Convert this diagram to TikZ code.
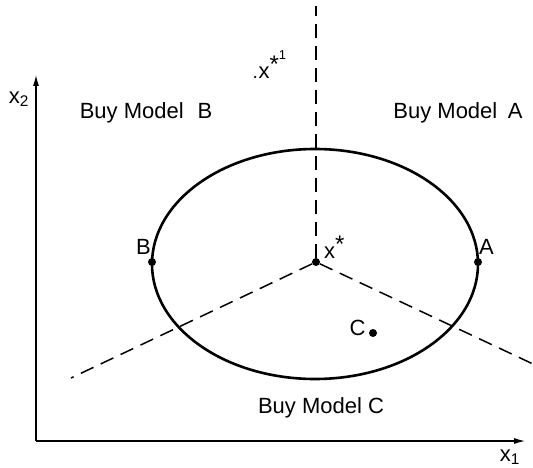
\documentclass[tikz,border=0pt]{standalone}
\usepackage{fontspec}
\setmainfont{Liberation Sans}
\usetikzlibrary{arrows.meta, positioning}

\newcommand{\bigstar}{\raisebox{0.55ex}{\fontsize{24}{24}\selectfont *}}

\begin{document}
\begin{tikzpicture}[
    x=1pt, y=-1pt,
    axis/.style={line width=1.8pt, -{Latex[length=12pt,width=6pt]}},
    border/.style={line width=1.5pt, dash pattern=on 14pt off 8pt},
    pref/.style={line width=2.6pt},
    dot/.style={circle, fill, inner sep=0pt, minimum size=8pt},
    lbl/.style={font=\fontsize{22}{26}\selectfont, inner sep=1pt}
]
    \useasboundingbox (0,0) rectangle (533,468);

    % axes
    \coordinate (orig) at (36,441);
    \coordinate (ytip) at (36,74);
    \coordinate (xtip) at (526,441);
    \draw[axis] (orig) -- (ytip);
    \draw[axis] (orig) -- (xtip);
    \node[lbl] (xtwo) at (19,99) {x\textsubscript{2}};
    \node[lbl] (xone) at (510,457) {x\textsubscript{1}};

    % ideal point and region borders
    \node[dot] (ideal) at (316,262) {};
    \coordinate (topend) at (316,6);
    \coordinate (leftend) at (71,378);
    \coordinate (rightend) at (533,364);
    \draw[border] (ideal) -- (topend);
    \draw[border] (ideal) -- (leftend);
    \draw[border] (ideal) -- (rightend);

    % indifference ellipse
    \draw[pref] (315,264) ellipse [x radius=163, y radius=115];

    \node[dot] (ptB) at (152,262) {};
    \node[dot] (ptA) at (478,262) {};
    \node[dot] (ptC) at (373,333) {};
    \node[lbl, above left=3pt and -3pt of ptB] (labB) {B};
    \node[lbl, above right=3pt and -3pt of ptA] (labA) {A};
    \node[lbl, left=2pt of ptC, yshift=5pt] (labC) {C};
    \node[lbl, above right=-1pt and 4pt of ideal] (labx) {x\bigstar};

    % other ideal point
    \node[circle, fill, inner sep=0pt, minimum size=2.5pt] (ideal2) at (255,77) {};
    \node[lbl, anchor=south west, xshift=1pt, yshift=-3pt] (labx2) at (ideal2.east)
        {x\bigstar\raisebox{1.7ex}{\fontsize{13}{13}\selectfont 1}};

    % regions
    \node[lbl] (regB) at (146,113) {Buy Model\hspace{0.35em} B};
    \node[lbl] (regA) at (458,113) {Buy Model\hspace{0.2em} A};
    \node[lbl] (regC) at (321,408) {Buy Model C};
\end{tikzpicture}
\end{document}
